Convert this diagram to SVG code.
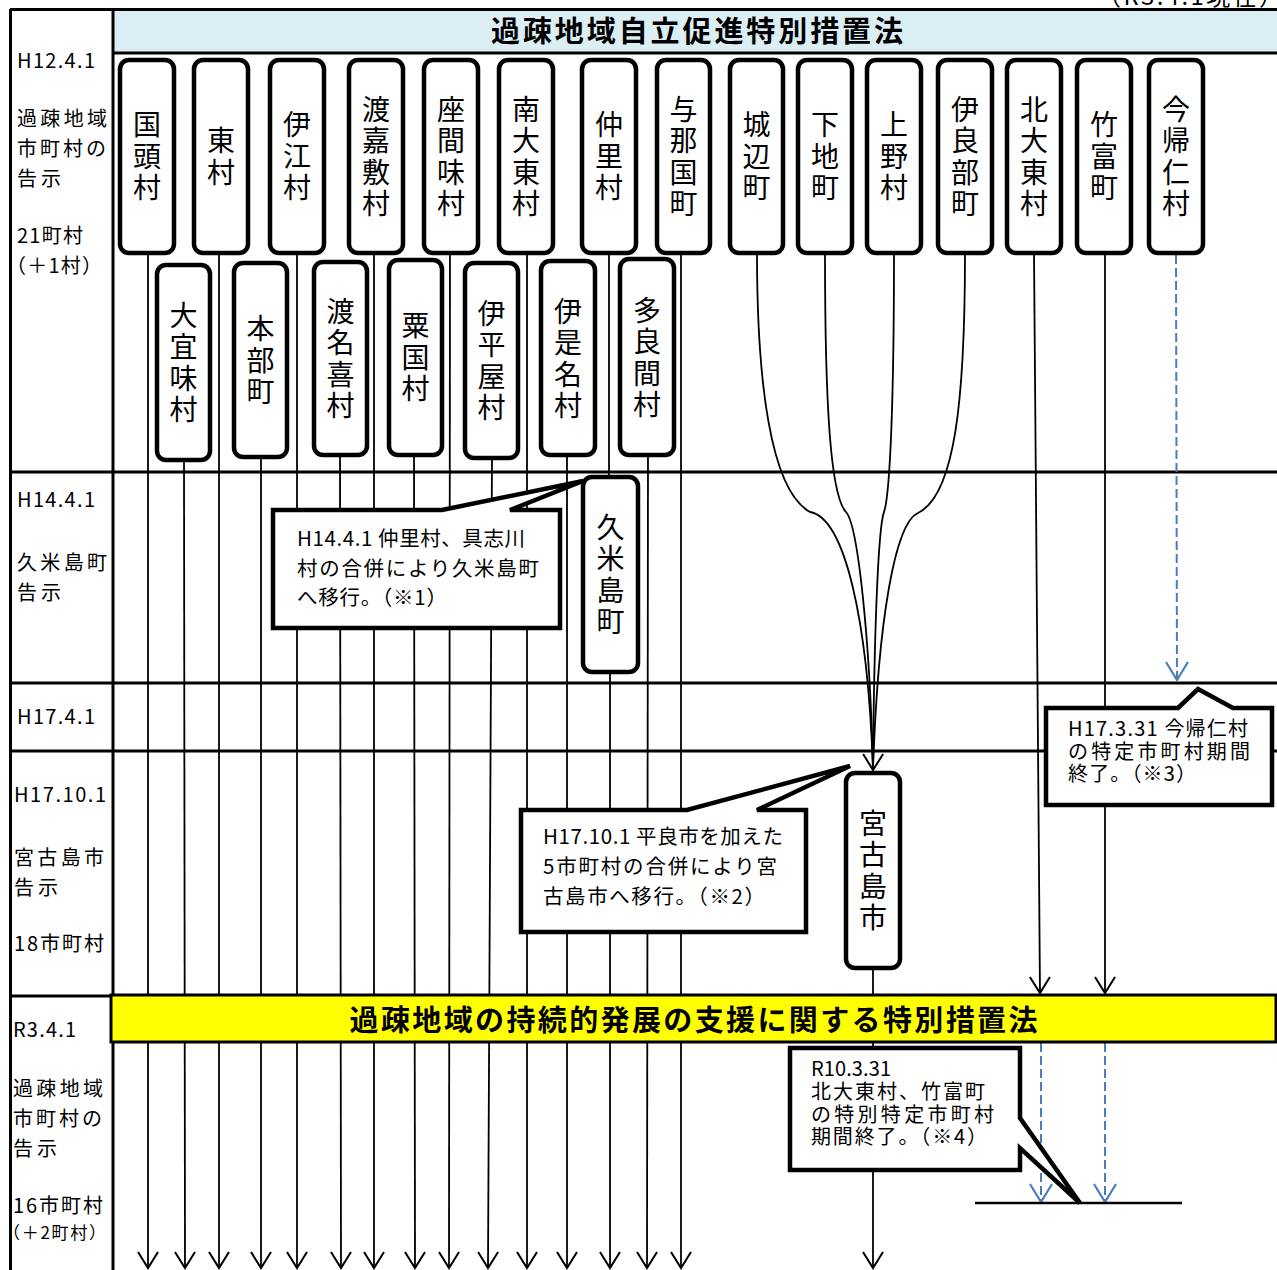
<svg xmlns="http://www.w3.org/2000/svg" width="1277" height="1270" viewBox="0 0 1277 1270">
<style>
text{font-family:"Noto Sans CJK JP","Noto Sans",sans-serif;fill:#000}
.grid{stroke:#000;stroke-width:3;fill:none}
.ln{stroke:#000;stroke-width:1.8;fill:none}
.ar{marker-end:url(#ah)}
.bl{stroke:#4A7EBB;stroke-width:2;stroke-dasharray:9 4;fill:none;marker-end:url(#ahb)}
.nd rect{fill:#fff;stroke:#000;stroke-width:4.5}
.v{font-size:28px;text-anchor:middle;writing-mode:vertical-rl;text-orientation:upright;letter-spacing:3.5px}
.lab{font-size:20px}
.co path{fill:#fff;stroke:#000;stroke-width:4.5;stroke-linejoin:miter}
.ct{font-size:20.5px}
.cs{font-size:20px}
.ttl{font-size:29px;font-weight:bold;text-anchor:middle}
</style>
<defs>
<marker id="ah" viewBox="-1 -12 19 24" refX="16" refY="0" markerWidth="19" markerHeight="24" orient="auto" markerUnits="userSpaceOnUse"><path d="M0,-10 L16,0 L0,10" fill="none" stroke="#000" stroke-width="2"/></marker>
<marker id="ahb" viewBox="-1 -13 21 26" refX="18" refY="0" markerWidth="21" markerHeight="26" orient="auto" markerUnits="userSpaceOnUse"><path d="M0,-11 L18,0 L0,11" fill="none" stroke="#4A7EBB" stroke-width="2.2"/></marker>
</defs>
<rect x="0" y="0" width="1277" height="1270" fill="#fff"/>
<text x="1097" y="5" font-size="24" textLength="186">（R3.4.1現在）</text>
<g id="frame">
<rect x="113" y="10" width="1164" height="43" fill="#DAEEF3"/>
<line class="grid" x1="10" y1="9.5" x2="1277" y2="9.5"/>
<line class="grid" x1="10.5" y1="9" x2="10.5" y2="1270"/>
<line class="grid" x1="113" y1="9" x2="113" y2="1270"/>
<line class="grid" x1="113" y1="53" x2="1277" y2="53"/>
<line class="grid" x1="10" y1="472" x2="1277" y2="472"/>
<line class="grid" x1="10" y1="683" x2="1277" y2="683"/>
<line class="grid" x1="10" y1="751" x2="1277" y2="751"/>
<line class="grid" x1="10" y1="996" x2="1277" y2="996"/>
<text class="ttl" x="697" y="41.5" textLength="412">過疎地域自立促進特別措置法</text>
</g>
<g id="labels" class="lab">
<text x="17" y="68" textLength="78">H12.4.1</text>
<text x="17" y="125.5" textLength="90">過疎地域</text>
<text x="17" y="155.5" textLength="89">市町村の</text>
<text x="17" y="185.5" textLength="44">告示</text>
<text x="17" y="242.5" textLength="66">21町村</text>
<text x="6" y="272.5" textLength="96">（＋1村）</text>
<text x="17" y="507" textLength="78">H14.4.1</text>
<text x="17" y="569.5" textLength="90">久米島町</text>
<text x="17" y="599.5" textLength="44">告示</text>
<text x="17" y="724" textLength="78">H17.4.1</text>
<text x="14" y="802" textLength="92">H17.10.1</text>
<text x="14" y="864.5" textLength="90">宮古島市</text>
<text x="14" y="894.5" textLength="44">告示</text>
<text x="14" y="950.5" textLength="90">18市町村</text>
<text x="13" y="1037" textLength="63">R3.4.1</text>
<text x="13" y="1095.5" textLength="90">過疎地域</text>
<text x="13" y="1125.5" textLength="89">市町村の</text>
<text x="13" y="1155.5" textLength="44">告示</text>
<text x="13" y="1212.5" textLength="90">16市町村</text>
<text x="3" y="1239" font-size="17" textLength="103">（＋2町村）</text>
</g>
<g id="connectors">
<line class="ln ar" x1="148" y1="253" x2="148" y2="1268"/>
<line class="ln ar" x1="219" y1="253" x2="219" y2="1268"/>
<line class="ln ar" x1="297" y1="253" x2="297" y2="1268"/>
<line class="ln ar" x1="374" y1="253" x2="374" y2="1268"/>
<line class="ln ar" x1="450" y1="253" x2="449" y2="1268"/>
<line class="ln ar" x1="527" y1="253" x2="527" y2="1268"/>
<line class="ln ar" x1="681" y1="253" x2="681" y2="1268"/>
<line class="ln ar" x1="184" y1="460" x2="185" y2="1268"/>
<line class="ln ar" x1="261" y1="457" x2="261" y2="1268"/>
<line class="ln ar" x1="340" y1="455" x2="341" y2="1268"/>
<line class="ln ar" x1="414" y1="455" x2="415" y2="1268"/>
<line class="ln ar" x1="492" y1="458" x2="488" y2="1268"/>
<line class="ln ar" x1="567" y1="455" x2="567" y2="1268"/>
<line class="ln ar" x1="648" y1="455" x2="647" y2="1268"/>
<line class="ln" x1="609" y1="253" x2="609" y2="477"/>
<line class="ln ar" x1="610" y1="672" x2="610" y2="1268"/>
<line class="ln ar" x1="873" y1="968" x2="873" y2="1268"/>
<path class="ln" d="M757,253 C757,380 770,490 810,512 C845,518 868,620 873,770"/>
<path class="ln" d="M825,253 C825,400 830,495 846,512 C858,525 870,640 873,770"/>
<path class="ln ar" d="M894,253 C894,400 890,495 884,512 C878,528 874,640 873,770"/>
<path class="ln" d="M965,253 C965,400 955,495 918,513 C895,523 878,620 873,770"/>
<line class="ln ar" x1="1034" y1="253" x2="1040" y2="993"/>
<line class="ln ar" x1="1105" y1="253" x2="1105" y2="993"/>
<line class="bl" x1="1176" y1="255" x2="1177" y2="680"/>
<line class="bl" x1="1041" y1="1043" x2="1041" y2="1202"/>
<line class="bl" x1="1105" y1="1043" x2="1105" y2="1202"/>
<line stroke="#000" stroke-width="2.5" x1="975" y1="1203" x2="1182" y2="1203"/>
</g>
<g id="band2">
<rect x="111" y="995" width="1165" height="47" fill="#FFFF00" stroke="#000" stroke-width="3"/>
<text class="ttl" x="693.5" y="1031" textLength="688">過疎地域の持続的発展の支援に関する特別措置法</text>
</g>
<g id="callout1" class="co">
<path d="M273,510 L442,510 L583,481 L510,510 L560,510 L560,628 L273,628 Z"/>
<text class="ct" x="297" y="545.5" textLength="228">H14.4.1 仲里村、具志川</text>
<text class="ct" x="297" y="575.5" textLength="242">村の合併により久米島町</text>
<text class="ct" x="297" y="604.5" textLength="150">へ移行。（※1）</text>
</g>
<g id="callout2" class="co">
<path d="M521,810 L687,810 L850,766 L757,810 L806,810 L806,932 L521,932 Z"/>
<text class="ct" x="543" y="844" textLength="240">H17.10.1 平良市を加えた</text>
<text class="ct" x="543" y="874" textLength="234">5市町村の合併により宮</text>
<text class="ct" x="543" y="904" textLength="222">古島市へ移行。（※2）</text>
</g>
<g id="callout3" class="co">
<path d="M1046,708 L1178,708 L1198,689 L1233,708 L1272,708 L1272,805 L1046,805 Z"/>
<text class="cs" x="1068" y="736" textLength="180">H17.3.31 今帰仁村</text>
<text class="cs" x="1068" y="758.5" textLength="182">の特定市町村期間</text>
<text class="cs" x="1068" y="781" textLength="128">終了。（※3）</text>
</g>
<g id="callout4" class="co">
<path d="M790,1048 L1020,1048 L1020,1118 L1080,1203 L1020,1148 L1020,1170 L790,1170 Z"/>
<text class="cs" x="811" y="1076" textLength="80">R10.3.31</text>
<text class="cs" x="811" y="1099" textLength="174">北大東村、竹富町</text>
<text class="cs" x="811" y="1121.5" textLength="183">の特別特定市町村</text>
<text class="cs" x="811" y="1144" textLength="176">期間終了。（※4）</text>
</g>
<g id="n-kunigami" class="nd"><rect x="120" y="60" width="54" height="193" rx="9"/><text class="v" x="147" y="158">国頭村</text></g>
<g id="n-higashi" class="nd"><rect x="194" y="60" width="54" height="193" rx="9"/><text class="v" x="221" y="158">東村</text></g>
<g id="n-ie" class="nd"><rect x="270" y="60" width="54" height="193" rx="9"/><text class="v" x="297" y="158">伊江村</text></g>
<g id="n-tokashiki" class="nd"><rect x="349" y="60" width="54" height="193" rx="9"/><text class="v" x="376" y="158">渡嘉敷村</text></g>
<g id="n-zamami" class="nd"><rect x="424" y="60" width="54" height="193" rx="9"/><text class="v" x="451" y="158">座間味村</text></g>
<g id="n-minamidaito" class="nd"><rect x="499" y="60" width="54" height="193" rx="9"/><text class="v" x="526" y="158">南大東村</text></g>
<g id="n-nakazato" class="nd"><rect x="582" y="60" width="54" height="193" rx="9"/><text class="v" x="609" y="158">仲里村</text></g>
<g id="n-yonaguni" class="nd"><rect x="657" y="60" width="53" height="193" rx="9"/><text class="v" x="683.5" y="158">与那国町</text></g>
<g id="n-gusukube" class="nd"><rect x="730" y="60" width="53" height="193" rx="9"/><text class="v" x="756.5" y="158">城辺町</text></g>
<g id="n-shimoji" class="nd"><rect x="798" y="60" width="54" height="193" rx="9"/><text class="v" x="825" y="158">下地町</text></g>
<g id="n-ueno" class="nd"><rect x="867" y="60" width="54" height="193" rx="9"/><text class="v" x="894" y="158">上野村</text></g>
<g id="n-irabu" class="nd"><rect x="938" y="60" width="54" height="193" rx="9"/><text class="v" x="965" y="158">伊良部町</text></g>
<g id="n-kitadaito" class="nd"><rect x="1007" y="60" width="54" height="193" rx="9"/><text class="v" x="1034" y="158">北大東村</text></g>
<g id="n-taketomi" class="nd"><rect x="1077" y="60" width="54" height="193" rx="9"/><text class="v" x="1104" y="158">竹富町</text></g>
<g id="n-nakijin" class="nd"><rect x="1149" y="60" width="54" height="193" rx="9"/><text class="v" x="1176" y="158">今帰仁村</text></g>
<g id="n-ogimi" class="nd"><rect x="157" y="265" width="53" height="195" rx="9"/><text class="v" x="183.5" y="364">大宜味村</text></g>
<g id="n-motobu" class="nd"><rect x="234" y="263" width="53" height="194" rx="9"/><text class="v" x="260.5" y="362">本部町</text></g>
<g id="n-tonaki" class="nd"><rect x="314" y="262" width="53" height="193" rx="9"/><text class="v" x="340.5" y="360">渡名喜村</text></g>
<g id="n-aguni" class="nd"><rect x="389" y="260" width="53" height="195" rx="9"/><text class="v" x="415.5" y="359">粟国村</text></g>
<g id="n-iheya" class="nd"><rect x="465" y="263" width="53" height="195" rx="9"/><text class="v" x="491.5" y="362">伊平屋村</text></g>
<g id="n-izena" class="nd"><rect x="541" y="261" width="54" height="194" rx="9"/><text class="v" x="568" y="360">伊是名村</text></g>
<g id="n-tarama" class="nd"><rect x="620" y="259" width="54" height="196" rx="9"/><text class="v" x="647" y="359">多良間村</text></g>
<g id="n-kumejima" class="nd"><rect x="583" y="477" width="55" height="195" rx="9"/><text class="v" x="610.5" y="576">久米島町</text></g>
<g id="n-miyakojima" class="nd"><rect x="846" y="773" width="54" height="195" rx="9"/><text class="v" x="873" y="872">宮古島市</text></g>
</svg>
